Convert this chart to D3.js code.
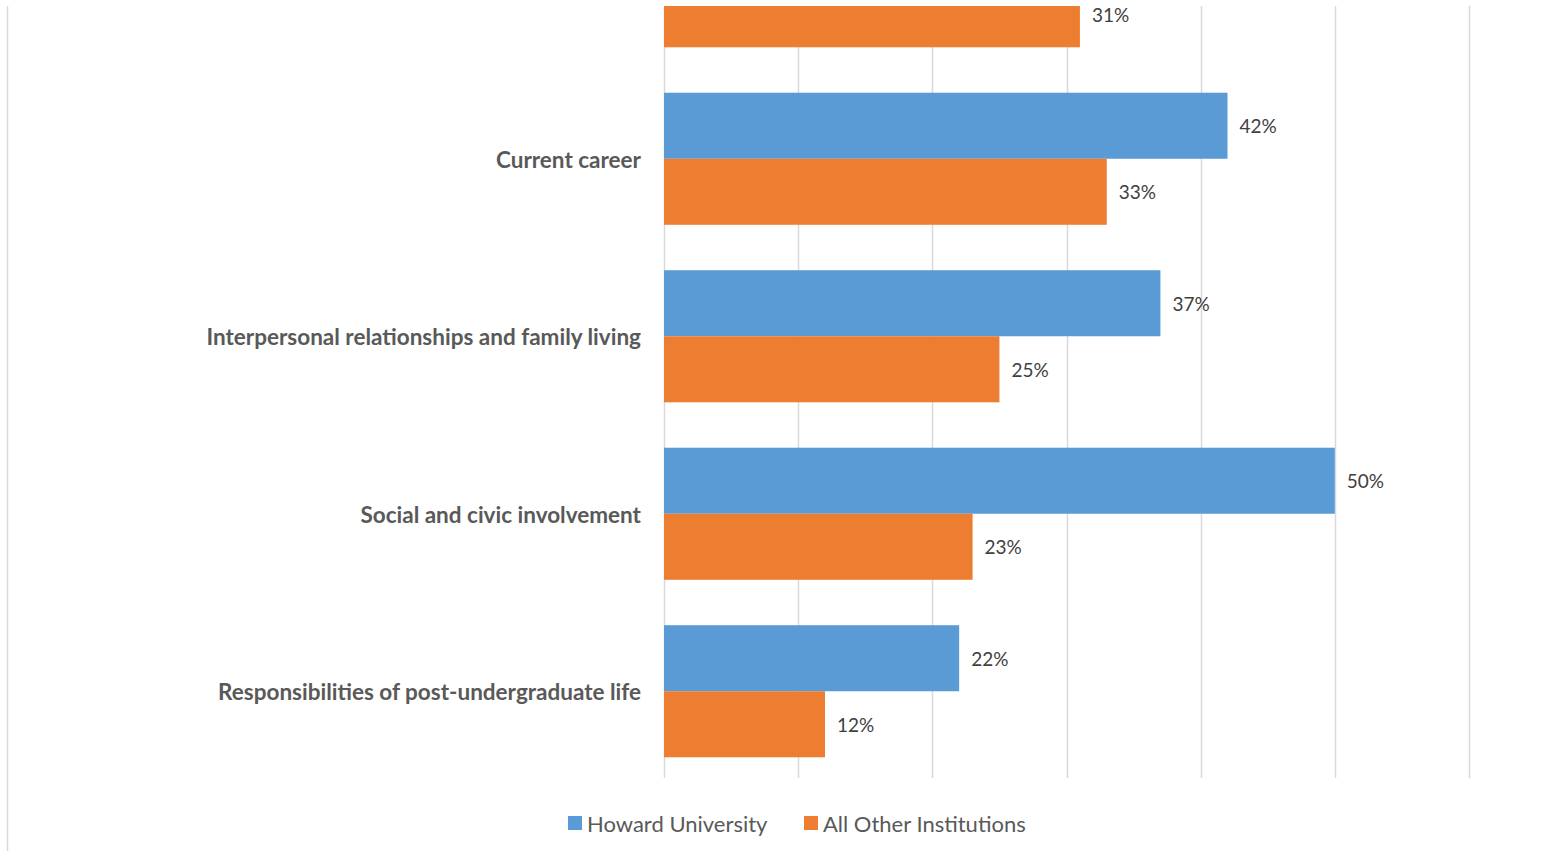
<!DOCTYPE html>
<html>
<head>
<meta charset="utf-8">
<script src="https://cdn.jsdelivr.net/npm/d3@7"></script>
<style>
  html, body { margin: 0; padding: 0; background: #fff; }
  svg { display: block; }
</style>
</head>
<body>
<svg id="chart" width="1562" height="851"></svg>
<script>
// Categories, top to bottom (first group is only partly shown at the top edge)
const categories = [
  "",
  "Current career",
  "Interpersonal relationships and family living",
  "Social and civic involvement",
  "Responsibilities of post-undergraduate life"
];
const seriesNames = ["Howard University", "All Other Institutions"];
const howardValues = [null, 42, 37, 50, 22];
const otherValues = [31, 33, 25, 23, 12];
const xTicks = [0, 10, 20, 30, 40, 50, 60];
const colors = ["#5B9BD5", "#ED7D31"];

const svg = d3.select("#chart");
const font = "Lato, 'Open Sans', 'DejaVu Sans', sans-serif";

const plotLeft = 664, plotRight = 1469, plotTop = 6, plotBottom = 778;

const x = d3.scaleLinear().domain([0, 60]).range([plotLeft, plotRight]);
const y = d3.scaleBand().domain(categories).range([-107.5, 780])
  .paddingInner(0.256).paddingOuter(0.128);
const ySub = d3.scaleBand().domain(seriesNames).range([0, y.bandwidth()]);

// chart frame edge on the left
svg.append("line")
  .attr("x1", 7.5).attr("x2", 7.5).attr("y1", 6).attr("y2", 851)
  .attr("stroke", "#D9D9D9").attr("stroke-width", 1.5);

// vertical gridlines
svg.append("g").selectAll("line").data(xTicks).join("line")
  .attr("x1", d => Math.round(x(d)) + 0.5).attr("x2", d => Math.round(x(d)) + 0.5)
  .attr("y1", plotTop).attr("y2", plotBottom)
  .attr("stroke", "#D9D9D9").attr("stroke-width", 1.5);

svg.append("defs").append("clipPath").attr("id", "plotClip")
  .append("rect").attr("x", 0).attr("y", plotTop).attr("width", 1562).attr("height", 851);

const rows = [];
categories.forEach((c, i) => {
  rows.push({ cat: c, series: seriesNames[0], value: howardValues[i], color: colors[0] });
  rows.push({ cat: c, series: seriesNames[1], value: otherValues[i], color: colors[1] });
});
const shown = rows.filter(d => d.value != null);

const plot = svg.append("g").attr("clip-path", "url(#plotClip)");

plot.selectAll("rect.bar").data(shown).join("rect")
  .attr("class", "bar")
  .attr("x", x(0))
  .attr("y", d => y(d.cat) + ySub(d.series))
  .attr("width", d => x(d.value) - x(0))
  .attr("height", ySub.bandwidth())
  .attr("fill", d => d.color);

// value labels
plot.selectAll("text.val").data(shown).join("text")
  .attr("class", "val")
  .attr("x", d => x(d.value) + 12)
  .attr("y", d => y(d.cat) + ySub(d.series) + ySub.bandwidth() / 2 + 1)
  .attr("dy", "0.35em")
  .attr("font-family", font).attr("font-size", 19).attr("fill", "#404040")
  .text(d => d.value + "%");

// category labels
svg.append("g").selectAll("text").data(categories.filter(c => c)).join("text")
  .attr("x", 641)
  .attr("y", d => y(d) + y.bandwidth() / 2 + 1)
  .attr("dy", "0.35em")
  .attr("text-anchor", "end")
  .attr("font-family", font).attr("font-weight", "bold").attr("font-size", 22.5)
  .attr("fill", "#595959")
  .text(d => d);

// legend
const legend = svg.append("g");
const legendPos = [568, 804];
seriesNames.forEach((s, i) => {
  legend.append("rect").attr("x", legendPos[i]).attr("y", 816)
    .attr("width", 14).attr("height", 14).attr("fill", colors[i]);
  legend.append("text").attr("x", legendPos[i] + 19).attr("y", 824).attr("dy", "0.35em")
    .attr("font-family", font).attr("font-size", 22).attr("fill", "#595959")
    .text(s);
});
</script>
</body>
</html>
